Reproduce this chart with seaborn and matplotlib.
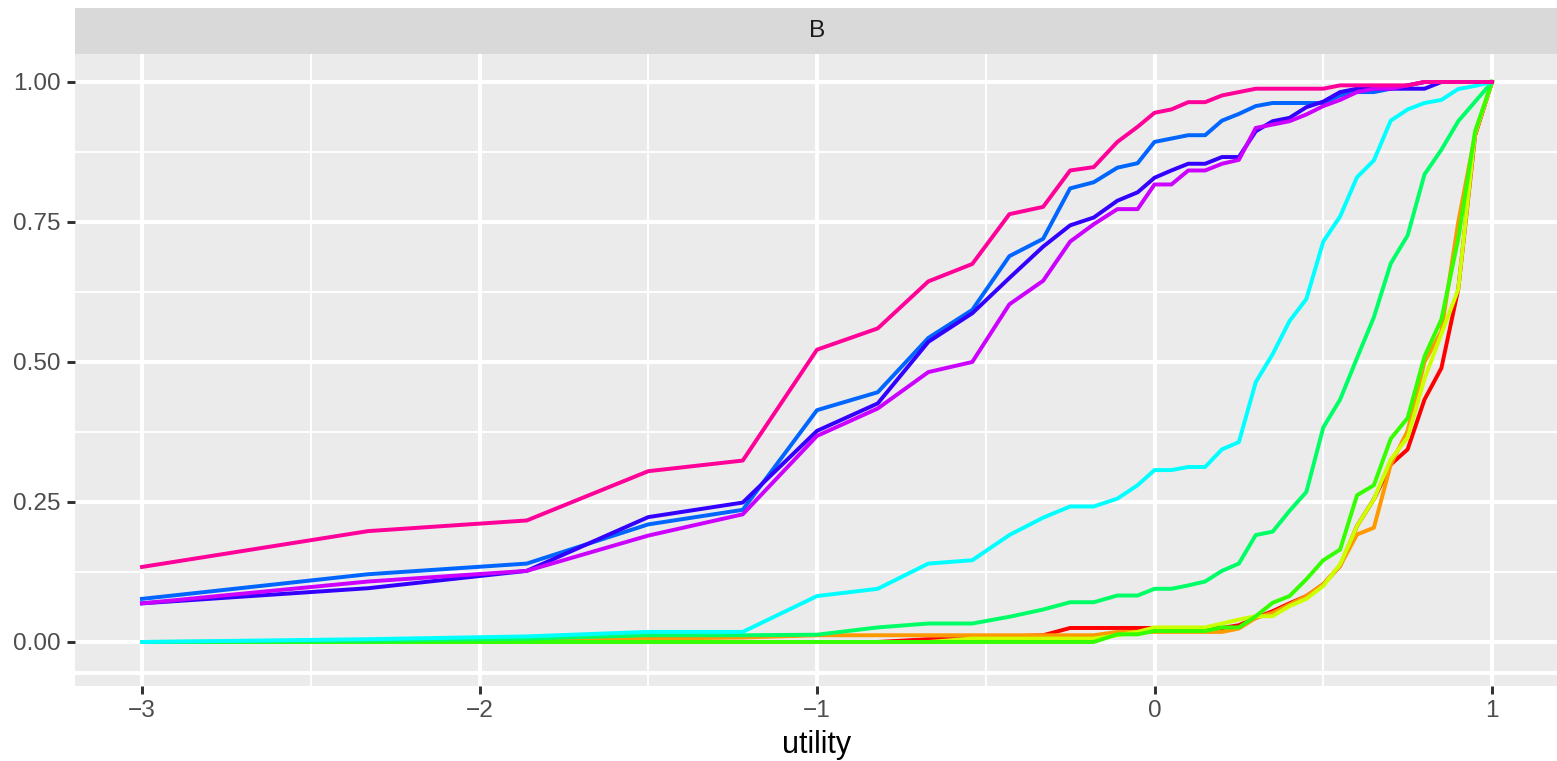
import matplotlib
matplotlib.use("Agg")
import matplotlib.pyplot as plt
import seaborn as sns
import pandas as pd

# grade de utilidade (comum a todas as curvas)
utility = [-3, -2.33, -1.86, -1.5, -1.22, -1, -0.82, -0.67, -0.54, -0.43, -0.33, -0.25,
           -0.18, -0.11, -0.05, 0, 0.05, 0.1, 0.15, 0.2, 0.25, 0.3, 0.35, 0.4, 0.45,
           0.5, 0.55, 0.6, 0.65, 0.7, 0.75, 0.8, 0.85, 0.9, 0.95, 1.0]

g1 = [0, 0, 0, 0, 0, 0, 0, 0.005, 0.005, 0.010, 0.012, 0.025, 0.025, 0.025, 0.025, 0.025,
      0.025, 0.025, 0.025, 0.025, 0.030, 0.043, 0.055, 0.069, 0.082, 0.103, 0.136, 0.207,
      0.255, 0.317, 0.344, 0.433, 0.489, 0.630, 0.905, 1.0]
g2 = [0, 0, 0.002, 0.006, 0.008, 0.012, 0.012, 0.012, 0.012, 0.012, 0.012, 0.012, 0.012,
      0.018, 0.018, 0.018, 0.018, 0.018, 0.018, 0.018, 0.024, 0.043, 0.052, 0.067, 0.082,
      0.103, 0.136, 0.192, 0.204, 0.317, 0.377, 0.500, 0.555, 0.750, 0.906, 1.0]
g3 = [0, 0, 0, 0, 0, 0, 0, 0, 0.006, 0.006, 0.006, 0.006, 0.006, 0.012, 0.018, 0.026,
      0.026, 0.026, 0.026, 0.033, 0.040, 0.046, 0.046, 0.064, 0.077, 0.100, 0.139, 0.207,
      0.255, 0.326, 0.365, 0.470, 0.550, 0.630, 0.910, 1.0]
g4 = [0, 0, 0, 0, 0, 0, 0, 0, 0, 0, 0, 0, 0, 0.0137, 0.0137, 0.0196, 0.0196, 0.0196,
      0.0196, 0.026, 0.026, 0.046, 0.070, 0.082, 0.112, 0.146, 0.165, 0.262, 0.280, 0.363,
      0.400, 0.510, 0.576, 0.720, 0.912, 1.0]
g5 = [0.0, 0.002, 0.006, 0.012, 0.012, 0.013, 0.026, 0.033, 0.033, 0.045, 0.058, 0.071,
      0.071, 0.083, 0.083, 0.095, 0.095, 0.101, 0.108, 0.127, 0.140, 0.191, 0.197, 0.234,
      0.268, 0.383, 0.433, 0.507, 0.580, 0.676, 0.726, 0.835, 0.879, 0.930, 0.965, 1.0]
g6 = [0.0, 0.005, 0.010, 0.018, 0.018, 0.082, 0.095, 0.140, 0.146, 0.191, 0.222, 0.242,
      0.242, 0.256, 0.280, 0.307, 0.307, 0.3125, 0.3125, 0.344, 0.357, 0.464, 0.514, 0.573,
      0.6125, 0.715, 0.760, 0.830, 0.860, 0.931, 0.951, 0.9625, 0.968, 0.9875, 0.993, 1.0]
g7 = [0.077, 0.121, 0.140, 0.210, 0.236, 0.414, 0.446, 0.543, 0.593, 0.689, 0.720, 0.810,
      0.821, 0.847, 0.855, 0.893, 0.899, 0.905, 0.905, 0.931, 0.943, 0.957, 0.9625, 0.9625,
      0.9625, 0.9625, 0.976, 0.982, 0.982, 0.988, 0.994, 1.0, 1.0, 1.0, 1.0, 1.0]
g8 = [0.069, 0.096, 0.127, 0.223, 0.249, 0.377, 0.426, 0.536, 0.587, 0.650, 0.706, 0.744,
      0.758, 0.788, 0.803, 0.829, 0.842, 0.854, 0.854, 0.866, 0.866, 0.912, 0.930, 0.936,
      0.955, 0.965, 0.982, 0.988, 0.988, 0.988, 0.988, 0.988, 1.0, 1.0, 1.0, 1.0]
g9 = [0.069, 0.108, 0.127, 0.190, 0.228, 0.368, 0.417, 0.482, 0.500, 0.603, 0.645, 0.715,
      0.746, 0.773, 0.773, 0.817, 0.817, 0.842, 0.842, 0.854, 0.861, 0.918, 0.924, 0.930,
      0.942, 0.957, 0.968, 0.982, 0.988, 0.988, 0.994, 1.0, 1.0, 1.0, 1.0, 1.0]
g10 = [0.134, 0.198, 0.217, 0.305, 0.324, 0.522, 0.560, 0.644, 0.675, 0.764, 0.777, 0.842,
       0.848, 0.893, 0.920, 0.945, 0.951, 0.964, 0.964, 0.976, 0.982, 0.988, 0.988, 0.988,
       0.988, 0.988, 0.994, 0.994, 0.994, 0.994, 0.994, 1.0, 1.0, 1.0, 1.0, 1.0]

grupos = ['1', '2', '3', '4', '5', '6', '7', '8', '9', '10']
series = [g1, g2, g3, g4, g5, g6, g7, g8, g9, g10]
cores = ['#FF0000', '#FF9900', '#CCFF00', '#33FF00', '#00FF66',
         '#00FFFF', '#0066FF', '#3300FF', '#CC00FF', '#FF0099']

df = pd.concat([pd.DataFrame({'utility': utility, 'value': s, 'grupo': g})
                for g, s in zip(grupos, series)], ignore_index=True)

plt.rcParams['font.family'] = ['Liberation Sans', 'DejaVu Sans']

W, H = 1557, 761
fig = plt.figure(figsize=(W / 200, H / 200), dpi=200)
ax = fig.add_axes([74.5 / W, 75 / H, 1485 / W, 632 / H])

sns.lineplot(data=df, x='utility', y='value', hue='grupo', palette=cores,
             legend=False, ax=ax, linewidth=1.42, errorbar=None, estimator=None)

ax.set_facecolor('#EBEBEB')
ax.set_xlim(-3.2, 1.2)
ax.set_ylim(-0.0786, 1.05)
ax.set_xticks([-3, -2, -1, 0, 1])
ax.set_xticks([-2.5, -1.5, -0.5, 0.5], minor=True)
ax.set_yticks([0, 0.25, 0.5, 0.75, 1.0])
ax.set_yticklabels(['0.00', '0.25', '0.50', '0.75', '1.00'])
ax.set_yticks([0.125, 0.375, 0.625, 0.875], minor=True)
ax.set_axisbelow(True)
ax.grid(which='major', color='white', linewidth=1.42)
ax.grid(which='minor', color='white', linewidth=0.71)
ax.axhline(-0.0554, color='white', linewidth=1.42, zorder=0.6)
for sp in ax.spines.values():
    sp.set_visible(False)
ax.tick_params(which='major', length=7.8 * 72 / 200, width=1.07, color='#333333',
               labelcolor='#4D4D4D', labelsize=8.8, pad=2.2)
ax.tick_params(which='minor', length=0)
ax.set_xlabel('utility', fontsize=11, color='black', labelpad=3)
ax.set_ylabel('')

# faixa do facet
sax = fig.add_axes([74.5 / W, (H - 54) / H, 1485 / W, 46 / H])
sax.set_facecolor('#D9D9D9')
sax.set_xticks([])
sax.set_yticks([])
for sp in sax.spines.values():
    sp.set_visible(False)
sax.text(0.5, 0.5, 'B', ha='center', va='center', fontsize=8.8, color='#1A1A1A',
         transform=sax.transAxes)

fig.savefig('out.png', dpi=200)
